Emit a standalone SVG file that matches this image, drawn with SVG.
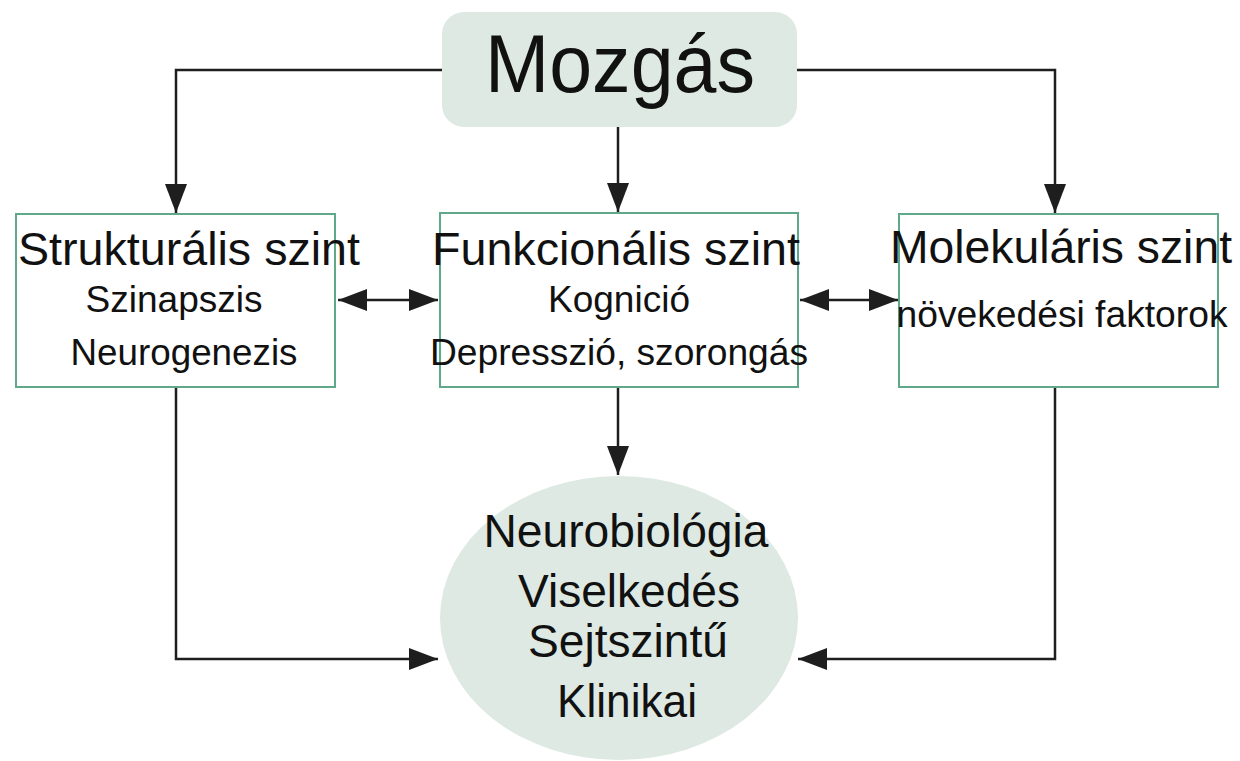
<svg xmlns="http://www.w3.org/2000/svg" width="1240" height="761" viewBox="0 0 1240 761">
<style>
.box{fill:#ffffff;stroke:#5fa88a;stroke-width:2}
.soft{fill:#dde9e2;stroke:none}
.t{font-family:"Liberation Sans",Arial,sans-serif;fill:#111;text-anchor:middle}
.big{font-size:81px}
.h{font-size:46px}
.s{font-size:37px}
.c{fill:none;stroke:#1e1e1e;stroke-width:2.5}
</style>
<defs>
<marker id="ah" markerUnits="userSpaceOnUse" markerWidth="30" markerHeight="24" refX="29" refY="11" orient="auto-start-reverse">
<path d="M0,0 L29,11 L0,22 z" fill="#1e1e1e"/>
</marker>
</defs>
<rect width="1240" height="761" fill="#ffffff"/>
<g id="connectors">
<path class="c" d="M442,70 H176 V213" marker-end="url(#ah)"/>
<path class="c" d="M618,127 V212" marker-end="url(#ah)"/>
<path class="c" d="M797,70 H1055 V213" marker-end="url(#ah)"/>
<path class="c" d="M338,300 H438" marker-start="url(#ah)" marker-end="url(#ah)"/>
<path class="c" d="M800,300 H898" marker-start="url(#ah)" marker-end="url(#ah)"/>
<path class="c" d="M618,387 V475" marker-end="url(#ah)"/>
<path class="c" d="M176,387 V659 H438" marker-end="url(#ah)"/>
<path class="c" d="M1055,387 V659 H798" marker-end="url(#ah)"/>
</g>
<g id="mozgas">
<rect class="soft" x="442" y="12" width="355" height="115" rx="22"/>
<text class="t big" x="620" y="92" textLength="270" lengthAdjust="spacingAndGlyphs">Mozgás</text>
</g>
<g id="strukturalis">
<rect class="box" x="16" y="214" width="319" height="173"/>
<text class="t h" x="189" y="265" textLength="342" lengthAdjust="spacingAndGlyphs">Strukturális szint</text>
<text class="t s" x="174" y="312" textLength="177" lengthAdjust="spacingAndGlyphs">Szinapszis</text>
<text class="t s" x="184" y="365" textLength="227" lengthAdjust="spacingAndGlyphs">Neurogenezis</text>
</g>
<g id="funkcionalis">
<rect class="box" x="440" y="213" width="358" height="174"/>
<text class="t h" x="616" y="265" textLength="368" lengthAdjust="spacingAndGlyphs">Funkcionális szint</text>
<text class="t s" x="619" y="312" textLength="142" lengthAdjust="spacingAndGlyphs">Kognició</text>
<text class="t s" x="619" y="365" textLength="378" lengthAdjust="spacingAndGlyphs">Depresszió, szorongás</text>
</g>
<g id="molekularis">
<rect class="box" x="899" y="214" width="319" height="173"/>
<text class="t h" x="1061" y="263" textLength="342" lengthAdjust="spacingAndGlyphs">Molekuláris szint</text>
<text class="t s" x="1062" y="327" textLength="331" lengthAdjust="spacingAndGlyphs">növekedési faktorok</text>
</g>
<g id="eredmeny">
<ellipse class="soft" cx="619" cy="618" rx="179" ry="142"/>
<text class="t h" x="626" y="547" textLength="285" lengthAdjust="spacingAndGlyphs">Neurobiológia</text>
<text class="t h" x="629" y="607" textLength="222" lengthAdjust="spacingAndGlyphs">Viselkedés</text>
<text class="t h" x="628" y="657" textLength="200" lengthAdjust="spacingAndGlyphs">Sejtszintű</text>
<text class="t h" x="627" y="717" textLength="140" lengthAdjust="spacingAndGlyphs">Klinikai</text>
</g>
</svg>
